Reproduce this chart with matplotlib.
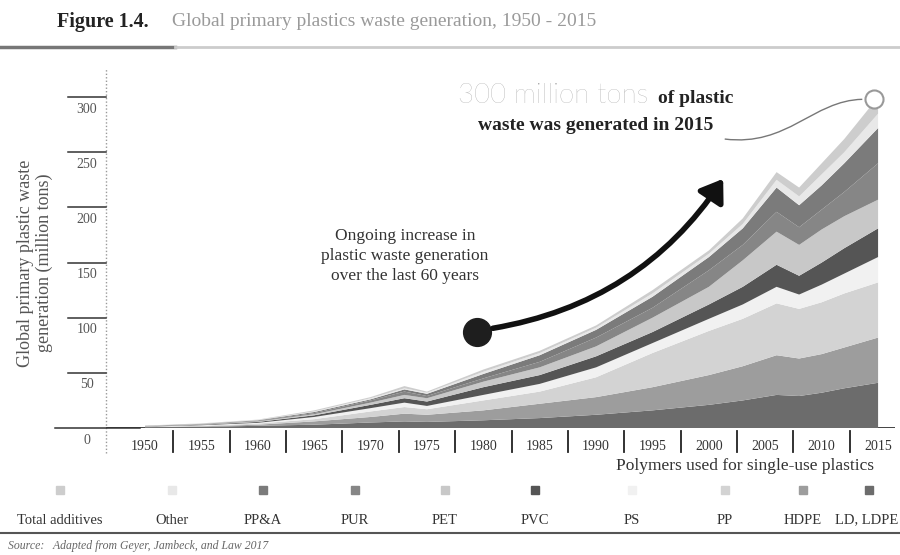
import numpy as np
import matplotlib.pyplot as plt
from matplotlib.lines import Line2D
from matplotlib.patches import FancyArrowPatch, PathPatch, Rectangle
from matplotlib.path import Path
import matplotlib.transforms as mtransforms

# values (million tons per polymer)
years = [1950, 1955, 1960, 1965, 1970, 1973, 1975, 1980, 1985, 1990, 1995, 2000, 2003, 2006, 2008, 2010, 2012, 2015]
ldpe = [0.5, 1, 2, 3, 5, 6, 5.5, 7, 9, 12, 16, 21, 25, 30, 29, 32, 36, 41]
hdpe = [0.3, 0.5, 1, 3, 5, 7, 6.5, 9, 13, 16, 21, 27, 31, 36, 34, 35, 37, 41]
pp = [0.2, 0.5, 1, 2, 5, 6, 5, 9, 11, 18, 31, 40, 43, 47, 45, 47, 49, 50]
ps = [0.2, 0.5, 0.7, 2, 3, 4, 3, 5, 7, 9, 9, 11, 13, 15, 13, 16, 18, 23]
pvc = [0.3, 0.5, 0.8, 1.5, 3, 4, 4, 7, 8, 10, 10, 13, 16, 20, 17, 20, 23, 26]
pet = [0.2, 0.3, 0.5, 1, 2, 3, 3, 5, 7, 9, 13, 16, 24, 30, 28, 30, 29, 26]
pur = [0.2, 0.3, 0.5, 1, 2, 3, 2, 3, 5, 8, 9, 15, 14, 18, 16, 18, 22, 33]
ppa = [0.1, 0.2, 0.5, 1, 1, 2, 2, 4, 6, 7, 10, 12, 15, 22, 20, 22, 26, 32]
other = [0.1, 0.2, 0.3, 0.5, 1, 1, 1, 2, 2, 2, 3, 3, 4, 7, 8, 10, 10, 13]
additives = [0.1, 0.2, 0.3, 1, 1, 2, 1, 2, 2, 2, 3, 3, 5, 7, 8, 10, 12, 15]

layers = [ldpe, hdpe, pp, ps, pvc, pet, pur, ppa, other, additives]
layer_colors = ['#6c6c6c', '#9d9d9d', '#d3d3d3', '#f1f1f1', '#555555',
                '#c8c8c8', '#868686', '#7b7b7b', '#e8e8e8', '#cdcdcd']
legend_labels = ['Total additives', 'Other', 'PP&A', 'PUR', 'PET', 'PVC', 'PS', 'PP', 'HDPE', 'LD, LDPE']
legend_colors = layer_colors[::-1]
yticks = [0, 50, 100, 150, 200, 250, 300]
xtick_years = list(range(1950, 2016, 5))

W, H = 900, 555
serif = 'Liberation Serif'


def fx(px):
    return px / W


def fy(py):
    return 1 - py / H


fig = plt.figure(figsize=(9, 5.55), dpi=100)
ax = fig.add_axes([fx(106), fy(428), fx(895) - fx(106), fy(68) - fy(428)])
ax.set_xlim(1946.54, 2016.5)
ax.set_ylim(0, 326.4)
ax.axis('off')

ax.stackplot(years, layers, colors=layer_colors, linewidth=0, zorder=2)
ax.axhline(0, color='#222222', lw=1.2, zorder=1)

# y axis: dotted line + ticks on the left
ax.plot([0, 0], [-0.07, 1], transform=ax.transAxes, clip_on=False,
        ls=(0, (1, 1.5)), color='#999999', lw=1)
ytrans = mtransforms.blended_transform_factory(fig.transFigure, ax.transData)
for v in yticks:
    x_end = fx(140) if v == 0 else fx(106)
    ax.add_line(Line2D([fx(55) if v == 0 else fx(68), x_end], [v, v], transform=ytrans,
                       color='#333333', lw=1.1, clip_on=False))
    ax.annotate(str(v), xy=(fx(87), v), xycoords=ytrans, xytext=(0, -4),
                textcoords='offset points', ha='center', va='top',
                fontsize=10, family=serif, color='#555555')

# x axis labels with separators
for yr in xtick_years:
    ax.annotate(str(yr), xy=(yr, 0), xytext=(0, -13), textcoords='offset points',
                ha='center', va='center', fontsize=10, family=serif, color='#333333')
    if yr > 1950:
        ax.plot([yr - 2.5, yr - 2.5], [-3, -22], color='#222222', lw=1.3, clip_on=False)

# title + rule
fig.text(fx(57), fy(22), 'Figure 1.4.', fontsize=14.5, family=serif, weight='bold',
         color='#222222', va='center')
fig.text(fx(172), fy(22), 'Global primary plastics waste generation, 1950 - 2015',
         fontsize=14, family=serif, color='#9a9a9a', va='center')
fig.add_artist(Line2D([0, fx(175)], [fy(47), fy(47)], color='#777777', lw=2.5))
fig.add_artist(Line2D([fx(175), 1], [fy(47), fy(47)], color='#cccccc', lw=2))

# y label
fig.text(fx(35), fy(263), 'Global primary plastic waste\ngeneration (million tons)',
         rotation=90, ha='center', va='center', fontsize=13, family=serif,
         color='#555555', linespacing=1.1)

# ongoing increase annotation
fig.text(fx(405), fy(256), 'Ongoing increase in\nplastic waste generation\nover the last 60 years',
         ha='center', va='center', fontsize=12.5, family=serif, color='#333333',
         linespacing=1.3)
ax.plot(1979.4, 87, 'o', ms=20, color='#1e1e1e', zorder=5)
arrow = FancyArrowPatch((1980.6, 90), (2001.4, 228), connectionstyle='arc3,rad=0.22',
                        arrowstyle='-|>,head_length=0.8,head_width=0.55', mutation_scale=16,
                        lw=4, color='#111111', zorder=5)
ax.add_patch(arrow)

# 300 million tons annotation
fig.text(fx(458), fy(103), '300 million tons', fontsize=20, family='Lato', weight='light',
         color='#9a9a9a', va='baseline')
fig.text(fx(658), fy(103), 'of plastic', fontsize=14, family=serif, weight='bold',
         color='#222222', va='baseline')
fig.text(fx(478), fy(130), 'waste was generated in 2015', fontsize=14, family=serif,
         weight='bold', color='#222222', va='baseline')
verts = [(2001.4, 262), (2007.0, 255), (2009.2, 297), (2013.6, 298)]
codes = [Path.MOVETO, Path.CURVE4, Path.CURVE4, Path.CURVE4]
ax.add_patch(PathPatch(Path(verts, codes), fill=False, lw=1, color='#777777', clip_on=False, zorder=6))
ax.plot(2014.6, 298, 'o', ms=13, mfc='white', mec='#999999', mew=1.5, zorder=6, clip_on=False)

# bottom legend
fig.text(fx(745), fy(466), 'Polymers used for single-use plastics', ha='center', va='center',
         fontsize=12.5, family=serif, color='#333333')
legend_x = [60, 172, 263, 355, 445, 535, 632, 725, 803, 869]
for lx, lab, col in zip(legend_x, legend_labels, legend_colors):
    fig.add_artist(Rectangle((fx(lx - 4), fy(494)), 8 / W, 8 / H, color=col))
    if lab == 'LD, LDPE':
        fig.text(fx(898), fy(520), lab, ha='right', va='center', fontsize=10.5,
                 family=serif, color='#333333')
    else:
        fig.text(fx(lx), fy(520), lab, ha='center', va='center', fontsize=10.5,
                 family=serif, color='#333333')
fig.add_artist(Line2D([0, 1], [fy(533), fy(533)], color='#555555', lw=1.5))
fig.text(fx(8), fy(546), 'Source:   Adapted from Geyer, Jambeck, and Law 2017', fontsize=8.5,
         family=serif, style='italic', color='#666666', va='center')

fig.savefig('out.png', dpi=100)
